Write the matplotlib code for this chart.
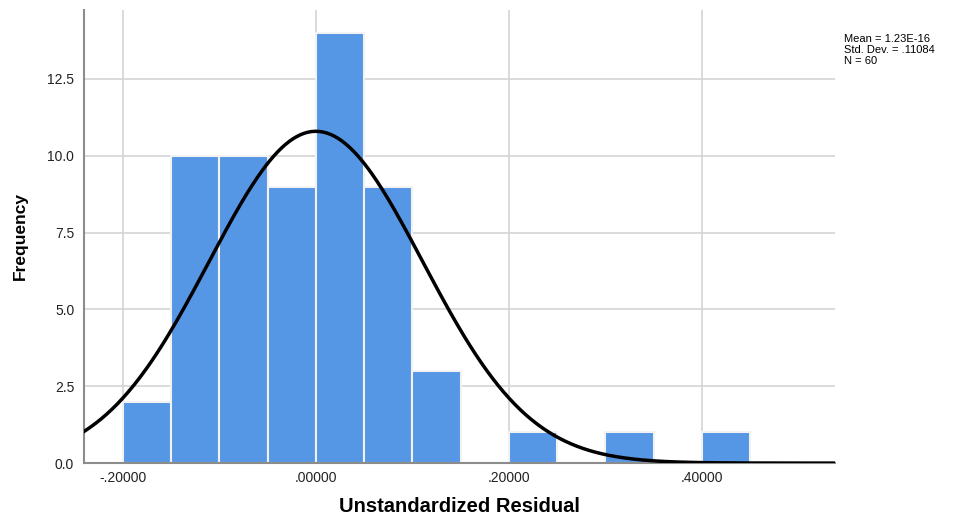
import numpy as np
import matplotlib.pyplot as plt

plt.rcParams['font.family'] = ['Liberation Sans', 'DejaVu Sans']

# histogram bins (left edges, width .05) and counts
bin_left = [-0.20, -0.15, -0.10, -0.05, 0.00, 0.05, 0.10, 0.15, 0.20, 0.25, 0.30, 0.35, 0.40]
counts = [2, 10, 10, 9, 14, 9, 3, 0, 1, 0, 1, 0, 1]
bin_width = 0.05

mean = 1.23e-16
std = 0.11084
n = 60

xticks = [-0.2, 0.0, 0.2, 0.4]
xticklabels = ['-.20000', '.00000', '.20000', '.40000']
yticks = [0.0, 2.5, 5.0, 7.5, 10.0, 12.5]

fig = plt.figure(figsize=(9.64, 5.18), dpi=100)
ax = fig.add_axes([0.0871, 0.106, 0.779, 0.875])

ax.bar(bin_left, counts, width=bin_width, align='edge', color='#5596e5',
       edgecolor='#f2f2f2', linewidth=1.5, zorder=2)

# normal curve scaled to counts
xs = np.linspace(-0.2404, 0.538, 400)
ys = n * bin_width * np.exp(-(xs - mean) ** 2 / (2 * std ** 2)) / (std * np.sqrt(2 * np.pi))
ax.plot(xs, ys, color='black', linewidth=2.5, zorder=3)

ax.set_xlim(-0.2404, 0.538)
ax.set_ylim(0, 14.75)
ax.set_xticks(xticks)
ax.set_xticklabels(xticklabels)
ax.set_yticks(yticks)
ax.set_yticklabels(['%.1f' % v for v in yticks])
ax.tick_params(length=0, labelsize=10, colors='#222222')
ax.tick_params(axis='x', pad=6)
ax.tick_params(axis='y', pad=7)
ax.grid(True, color='#d4d4d4', linewidth=1.2, zorder=0)
ax.set_axisbelow(True)

for s in ['top', 'right']:
    ax.spines[s].set_visible(False)
for s in ['left', 'bottom']:
    ax.spines[s].set_color('#8c8c8c')
    ax.spines[s].set_linewidth(1.5)

ax.set_xlabel('Unstandardized Residual', fontsize=14.5, fontweight='bold', labelpad=8)
ax.set_ylabel('Frequency', fontsize=12.5, fontweight='bold', labelpad=14)

fig.text(0.876, 0.935, 'Mean = 1.23E-16\nStd. Dev. = .11084\nN = 60',
         fontsize=8, va='top', ha='left', linespacing=1.15)

fig.savefig('out.png', dpi=100)
